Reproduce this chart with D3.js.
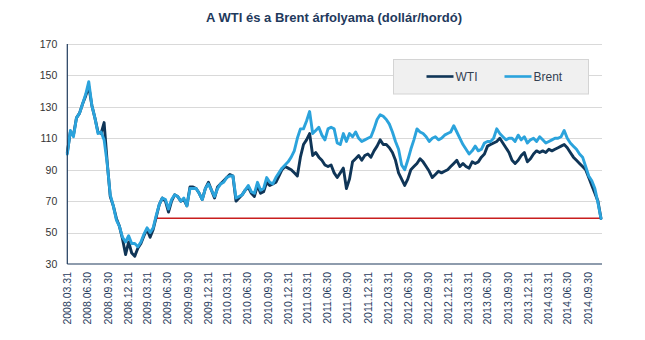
<!DOCTYPE html>
<html>
<head>
<meta charset="utf-8">
<script src="https://cdn.jsdelivr.net/npm/d3@7/dist/d3.min.js"></script>
<style>
  html, body { margin: 0; padding: 0; background: #ffffff; }
  svg { display: block; }
</style>
</head>
<body>
<svg id="chart" width="645" height="340"></svg>
<script>
// Oil prices, USD per barrel, one reading every 14 days from 2008-03-31
const startDate = "2008-03-31";
const stepDays = 14;

const wti = [
  101, 114, 112, 123, 126, 132, 137, 143, 131, 123,
  114, 113, 120, 95, 73, 67, 59, 54, 46, 36,
  44, 37, 35, 40, 43, 48, 52, 47, 52, 60,
  68, 72, 70, 63, 70, 74, 73, 70, 71, 67,
  79, 79, 78, 75, 71, 78, 82, 77, 72, 79,
  81, 83, 85, 87, 86, 70, 72, 74, 77, 79,
  75, 73, 80, 75, 76, 82, 80, 81, 82, 86,
  90, 92, 91, 90, 88, 86, 98, 106, 109, 113,
  99, 101, 98, 96, 93, 92, 93, 88, 85, 88,
  91, 78, 84, 95, 97, 99, 96, 99, 100, 98,
  102, 105, 109, 106, 106, 104, 101, 96, 88, 84,
  80, 84, 90, 92, 94, 97, 95, 92, 89, 85,
  87, 89, 88, 89, 90, 92, 94, 96, 92, 94,
  92, 91, 95, 94, 95, 98, 100, 105, 106, 107,
  108, 110, 107, 104, 101, 96, 94, 96, 99, 101,
  95, 97, 100, 102, 101, 102, 101, 103, 102, 103,
  104, 105, 106, 104, 101, 98, 96, 94, 92, 90,
  85, 80, 75, 70, 59
];

const brent = [
  100, 115, 111, 123, 126, 132, 138, 146, 131, 123,
  113, 114, 109, 94, 74, 67, 58, 54, 47, 44,
  48, 43, 43, 41, 44, 49, 53, 50, 53, 61,
  68, 72, 71, 65, 71, 74, 73, 70, 72, 67,
  78, 78, 78, 75, 71, 78, 81, 77, 73, 78,
  81, 82, 85, 86, 86, 72, 73, 74, 77, 80,
  76, 75, 82, 77, 78, 85, 82, 81, 85, 88,
  91, 93, 95, 98, 102, 110, 116, 116, 121, 127,
  113, 115, 117, 112, 109, 116, 117, 116, 107, 106,
  113, 108, 113, 111, 114, 110, 108, 109, 110, 111,
  116, 122, 125, 124, 122, 119, 114, 108, 103, 93,
  90, 96, 103, 109, 116, 114, 113, 111, 108, 110,
  111, 109, 110, 112, 113, 114, 118, 114, 110, 106,
  103, 100, 102, 105, 102, 103, 107, 108, 108, 110,
  116, 113, 111, 109, 110, 110, 108, 112, 109, 111,
  107, 109, 110, 108, 111, 109, 107, 108, 109, 110,
  110, 111, 115, 110, 107, 105, 103, 100, 98, 92,
  86, 83, 78, 69, 59
];

// Quarter-end dates shown on the time axis
const tickLabels = [
  "2008.03.31", "2008.06.30", "2008.09.30", "2008.12.31",
  "2009.03.31", "2009.06.30", "2009.09.30", "2009.12.31",
  "2010.03.31", "2010.06.30", "2010.09.30", "2010.12.31",
  "2011.03.31", "2011.06.30", "2011.09.30", "2011.12.31",
  "2012.03.31", "2012.06.30", "2012.09.30", "2012.12.31",
  "2013.03.31", "2013.06.30", "2013.09.30", "2013.12.31",
  "2014.03.31", "2014.06.30", "2014.09.30"
];
const yTicks = [30, 50, 70, 90, 110, 130, 150, 170];

// Horizontal reference level (latest price) and where it starts
const refLevel = 59.1;
const refStart = "2009-05-05";

const seriesNames = ["WTI", "Brent"];
const seriesColors = ["#0f3557", "#2ba3dc"];
const titleText = "A WTI és a Brent árfolyama (dollár/hordó)";

// ---------------------------------------------------------------
const svg = d3.select("#chart");
const parseISO = d3.timeParse("%Y-%m-%d");
const parseTick = d3.timeParse("%Y.%m.%d");

const t0 = parseISO(startDate);
const dates = wti.map((_, i) => d3.timeDay.offset(t0, i * stepDays));

const plot = { left: 67.3, right: 601, top: 44, bottom: 264 };

const x = d3.scaleTime()
  .domain([dates[0], dates[dates.length - 1]])
  .range([plot.left, plot.right]);

const y = d3.scaleLinear()
  .domain([30, 170])
  .range([plot.bottom, plot.top]);

// Title
svg.append("text")
  .attr("x", 334)
  .attr("y", 22)
  .attr("text-anchor", "middle")
  .attr("font-family", "'Liberation Sans', Arial, sans-serif")
  .attr("font-size", 13)
  .attr("font-weight", "bold")
  .attr("fill", "#1f3a5c")
  .text(titleText);

// Horizontal gridlines
svg.append("g")
  .selectAll("line")
  .data(yTicks.filter(v => v !== 30))
  .join("line")
  .attr("x1", plot.left)
  .attr("x2", plot.right + 1)
  .attr("y1", d => Math.round(y(d)) + 0.5)
  .attr("y2", d => Math.round(y(d)) + 0.5)
  .attr("stroke", "#d9d9d9")
  .attr("stroke-width", 1);

// Y axis labels
const yAxis = d3.axisLeft(y).tickValues(yTicks).tickSize(0).tickPadding(10);
const yg = svg.append("g")
  .attr("transform", `translate(${plot.left},0)`)
  .call(yAxis);
yg.select(".domain").remove();
yg.selectAll("text")
  .attr("font-family", "'Liberation Sans', Arial, sans-serif")
  .attr("font-size", 10.5)
  .attr("fill", "#333333");

// X axis labels (rotated)
const xAxis = d3.axisBottom(x)
  .tickValues(tickLabels.map(s => parseTick(s)))
  .tickFormat(d3.timeFormat("%Y.%m.%d"))
  .tickSize(0)
  .tickPadding(0);
const xg = svg.append("g")
  .attr("transform", `translate(0,${plot.bottom})`)
  .call(xAxis);
xg.select(".domain").remove();
xg.selectAll("text")
  .attr("font-family", "'Liberation Sans', Arial, sans-serif")
  .attr("font-size", 10.5)
  .attr("fill", "#1f3a5c")
  .attr("text-anchor", "end")
  .attr("dy", "0.35em")
  .attr("transform", "translate(0,8) rotate(-90)")
  .attr("x", 0)
  .attr("y", 0);

// Reference level
svg.append("line")
  .attr("x1", x(parseISO(refStart)))
  .attr("x2", plot.right)
  .attr("y1", y(refLevel))
  .attr("y2", y(refLevel))
  .attr("stroke", "#c81e1e")
  .attr("stroke-width", 1.3);

// Price lines (Brent drawn over WTI)
const line = d3.line()
  .x((d, i) => x(dates[i]))
  .y(d => y(d));

[wti, brent].forEach((series, k) => {
  svg.append("path")
    .datum(series)
    .attr("d", line)
    .attr("fill", "none")
    .attr("stroke", seriesColors[k])
    .attr("stroke-width", 2.9)
    .attr("stroke-linejoin", "round")
    .attr("stroke-linecap", "round");
});

// Axis lines
svg.append("line")
  .attr("x1", plot.left).attr("x2", plot.left)
  .attr("y1", plot.top).attr("y2", plot.bottom)
  .attr("stroke", "#1f3a5c").attr("stroke-width", 1.2);
svg.append("line")
  .attr("x1", plot.left).attr("x2", plot.right + 1)
  .attr("y1", plot.bottom).attr("y2", plot.bottom)
  .attr("stroke", "#1f3a5c").attr("stroke-width", 1.2);

// Legend
const legend = svg.append("g").attr("transform", "translate(393.5,59.5)");
legend.append("rect")
  .attr("width", 195)
  .attr("height", 34.5)
  .attr("fill", "#f0f0f0")
  .attr("stroke", "#d4d4d4")
  .attr("stroke-width", 1);

const legendItems = [
  { x: 33, lineLen: 27 },
  { x: 111, lineLen: 27 }
];
legendItems.forEach((it, k) => {
  legend.append("line")
    .attr("x1", it.x).attr("x2", it.x + it.lineLen)
    .attr("y1", 17).attr("y2", 17)
    .attr("stroke", seriesColors[k])
    .attr("stroke-width", 2.6);
  legend.append("text")
    .attr("x", it.x + it.lineLen + 2)
    .attr("y", 17)
    .attr("dy", "0.35em")
    .attr("font-family", "'Liberation Sans', Arial, sans-serif")
    .attr("font-size", 12)
    .attr("fill", "#333f50")
    .text(seriesNames[k]);
});
</script>
</body>
</html>
